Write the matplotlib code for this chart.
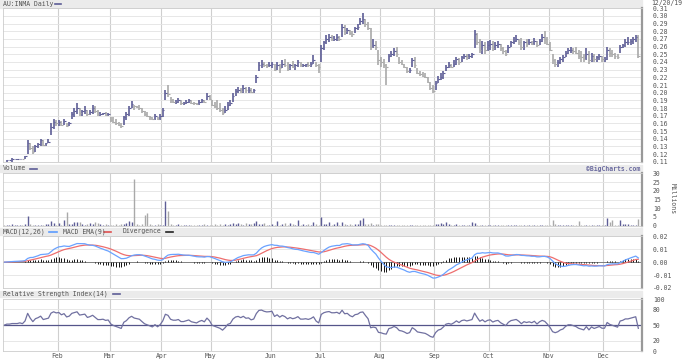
import matplotlib
matplotlib.use("Agg")
import matplotlib.pyplot as plt
from matplotlib.patches import Rectangle
from matplotlib.lines import Line2D
import numpy as np
import pandas as pd

# daily bars, 2 Jan 2019 to 20 Dec 2019 (one row per month in each list)
high = [
    0.110, 0.112, 0.112, 0.115, 0.113, 0.113, 0.114, 0.114, 0.118, 0.138, 0.135, 0.130, 0.132, 0.135, 0.140, 0.138, 0.135, 0.140, 0.160, 0.166, 0.164,
    0.165, 0.163, 0.166, 0.160, 0.162, 0.175, 0.180, 0.186, 0.180, 0.178, 0.182, 0.178, 0.178, 0.184, 0.182, 0.178, 0.175, 0.174, 0.175, 0.174,
    0.168, 0.168, 0.166, 0.162, 0.160, 0.170, 0.175, 0.182, 0.189, 0.184, 0.183, 0.184, 0.180, 0.176, 0.175, 0.170, 0.168, 0.172, 0.168, 0.172,
    0.180, 0.204, 0.210, 0.195, 0.192, 0.190, 0.193, 0.190, 0.188, 0.190, 0.192, 0.190, 0.188, 0.187, 0.190, 0.192, 0.191, 0.199, 0.197,
    0.190, 0.188, 0.190, 0.186, 0.180, 0.182, 0.188, 0.190, 0.199, 0.205, 0.208, 0.206, 0.210, 0.208, 0.207, 0.206, 0.205, 0.223, 0.240, 0.243, 0.240, 0.238, 0.240,
    0.240, 0.238, 0.240, 0.238, 0.242, 0.244, 0.240, 0.238, 0.241, 0.238, 0.242, 0.240, 0.238, 0.238, 0.240, 0.240, 0.249, 0.240, 0.238,
    0.262, 0.268, 0.275, 0.276, 0.275, 0.274, 0.276, 0.274, 0.290, 0.288, 0.284, 0.282, 0.280, 0.286, 0.290, 0.298, 0.304, 0.296, 0.292, 0.284, 0.270, 0.268, 0.256,
    0.246, 0.244, 0.238, 0.250, 0.254, 0.258, 0.259, 0.246, 0.242, 0.238, 0.234, 0.232, 0.245, 0.246, 0.232, 0.228, 0.227, 0.226, 0.220, 0.214, 0.210,
    0.215, 0.222, 0.226, 0.228, 0.236, 0.240, 0.238, 0.242, 0.246, 0.245, 0.248, 0.250, 0.251, 0.250, 0.252, 0.282, 0.278, 0.270, 0.268, 0.266, 0.268,
    0.269, 0.268, 0.266, 0.268, 0.264, 0.260, 0.256, 0.262, 0.268, 0.272, 0.275, 0.270, 0.271, 0.268, 0.270, 0.270, 0.268, 0.271, 0.268, 0.270, 0.276, 0.280, 0.272,
    0.266, 0.250, 0.244, 0.242, 0.246, 0.249, 0.254, 0.258, 0.260, 0.258, 0.260, 0.256, 0.254, 0.250, 0.258, 0.254, 0.252, 0.250, 0.248, 0.251, 0.248,
    0.246, 0.260, 0.258, 0.256, 0.252, 0.250, 0.262, 0.264, 0.270, 0.272, 0.270, 0.273, 0.275, 0.275,
]
low = [
    0.110, 0.110, 0.112, 0.110, 0.113, 0.112, 0.113, 0.113, 0.114, 0.120, 0.125, 0.120, 0.122, 0.128, 0.130, 0.130, 0.130, 0.134, 0.145, 0.152, 0.156,
    0.157, 0.157, 0.158, 0.155, 0.156, 0.166, 0.168, 0.172, 0.170, 0.170, 0.172, 0.170, 0.171, 0.172, 0.174, 0.170, 0.170, 0.171, 0.170, 0.170,
    0.162, 0.160, 0.158, 0.156, 0.154, 0.158, 0.165, 0.170, 0.180, 0.178, 0.180, 0.178, 0.174, 0.170, 0.168, 0.165, 0.164, 0.165, 0.164, 0.165,
    0.168, 0.190, 0.195, 0.186, 0.186, 0.185, 0.186, 0.184, 0.184, 0.185, 0.186, 0.185, 0.184, 0.184, 0.184, 0.186, 0.186, 0.190, 0.190,
    0.182, 0.180, 0.178, 0.175, 0.171, 0.174, 0.178, 0.182, 0.188, 0.196, 0.200, 0.199, 0.200, 0.200, 0.200, 0.199, 0.199, 0.212, 0.228, 0.232, 0.234, 0.232, 0.233,
    0.232, 0.228, 0.230, 0.226, 0.232, 0.234, 0.228, 0.230, 0.232, 0.230, 0.234, 0.234, 0.233, 0.234, 0.234, 0.234, 0.238, 0.234, 0.225,
    0.240, 0.256, 0.264, 0.266, 0.268, 0.268, 0.268, 0.268, 0.272, 0.275, 0.276, 0.275, 0.272, 0.278, 0.282, 0.288, 0.290, 0.286, 0.282, 0.256, 0.258, 0.256, 0.236,
    0.234, 0.232, 0.210, 0.240, 0.246, 0.248, 0.246, 0.238, 0.236, 0.232, 0.226, 0.225, 0.234, 0.232, 0.224, 0.222, 0.220, 0.219, 0.212, 0.204, 0.199,
    0.204, 0.212, 0.216, 0.218, 0.228, 0.232, 0.232, 0.234, 0.236, 0.236, 0.240, 0.244, 0.243, 0.244, 0.245, 0.258, 0.262, 0.252, 0.250, 0.250, 0.254,
    0.256, 0.254, 0.256, 0.258, 0.254, 0.250, 0.248, 0.252, 0.260, 0.264, 0.266, 0.262, 0.256, 0.256, 0.260, 0.262, 0.262, 0.262, 0.260, 0.262, 0.266, 0.264, 0.262,
    0.254, 0.238, 0.234, 0.234, 0.238, 0.240, 0.246, 0.250, 0.252, 0.250, 0.250, 0.244, 0.240, 0.240, 0.242, 0.238, 0.240, 0.240, 0.240, 0.242, 0.240,
    0.240, 0.242, 0.246, 0.246, 0.244, 0.244, 0.252, 0.258, 0.260, 0.262, 0.262, 0.264, 0.266, 0.245,
]
close = [
    0.110, 0.112, 0.112, 0.113, 0.113, 0.113, 0.114, 0.113, 0.117, 0.135, 0.128, 0.122, 0.130, 0.133, 0.138, 0.132, 0.134, 0.136, 0.155, 0.162, 0.160,
    0.162, 0.158, 0.163, 0.157, 0.160, 0.172, 0.176, 0.180, 0.174, 0.176, 0.178, 0.172, 0.175, 0.180, 0.176, 0.172, 0.172, 0.173, 0.171, 0.172,
    0.165, 0.162, 0.160, 0.158, 0.156, 0.168, 0.172, 0.180, 0.185, 0.182, 0.181, 0.180, 0.176, 0.172, 0.170, 0.168, 0.166, 0.170, 0.166, 0.170,
    0.178, 0.200, 0.198, 0.190, 0.188, 0.188, 0.190, 0.186, 0.186, 0.188, 0.190, 0.187, 0.186, 0.185, 0.188, 0.190, 0.188, 0.196, 0.192,
    0.184, 0.182, 0.180, 0.178, 0.174, 0.178, 0.184, 0.186, 0.196, 0.202, 0.204, 0.202, 0.206, 0.203, 0.204, 0.201, 0.203, 0.220, 0.236, 0.238, 0.236, 0.235, 0.236,
    0.238, 0.230, 0.236, 0.232, 0.238, 0.236, 0.232, 0.236, 0.234, 0.236, 0.240, 0.236, 0.236, 0.237, 0.236, 0.238, 0.242, 0.236, 0.233,
    0.258, 0.266, 0.270, 0.272, 0.270, 0.270, 0.272, 0.270, 0.286, 0.280, 0.282, 0.278, 0.276, 0.284, 0.286, 0.294, 0.296, 0.290, 0.284, 0.260, 0.262, 0.260, 0.242,
    0.240, 0.236, 0.234, 0.248, 0.250, 0.254, 0.250, 0.240, 0.238, 0.234, 0.228, 0.230, 0.242, 0.236, 0.226, 0.224, 0.222, 0.220, 0.214, 0.206, 0.202,
    0.212, 0.218, 0.220, 0.226, 0.234, 0.236, 0.234, 0.238, 0.244, 0.240, 0.246, 0.248, 0.246, 0.248, 0.250, 0.276, 0.266, 0.256, 0.262, 0.256, 0.262,
    0.264, 0.258, 0.262, 0.264, 0.258, 0.254, 0.250, 0.260, 0.266, 0.268, 0.270, 0.266, 0.260, 0.266, 0.264, 0.266, 0.264, 0.268, 0.262, 0.268, 0.272, 0.270, 0.264,
    0.256, 0.242, 0.238, 0.240, 0.244, 0.246, 0.252, 0.256, 0.256, 0.254, 0.252, 0.248, 0.246, 0.244, 0.250, 0.242, 0.248, 0.244, 0.246, 0.248, 0.244,
    0.244, 0.256, 0.252, 0.250, 0.248, 0.246, 0.260, 0.262, 0.266, 0.266, 0.268, 0.270, 0.272, 0.248,
]
# volume in millions
volume = [
    0.3, 0.2, 0.3, 1.0, 0.2, 0.3, 0.3, 0.4, 0.8, 5.8, 1.0, 0.6, 0.5, 0.6, 0.5, 0.4, 0.8, 1.2, 2.5, 1.8, 0.6,
    1.5, 0.6, 3.3, 8.0, 1.0, 0.8, 2.0, 2.2, 2.0, 1.0, 0.6, 1.2, 1.8, 1.0, 2.3, 1.5, 0.8, 0.6, 0.7, 0.5,
    0.6, 0.5, 0.7, 0.6, 1.2, 0.8, 1.5, 2.5, 2.0, 26.7, 0.8, 0.6, 0.7, 6.4, 7.2, 0.8, 0.5, 0.6, 1.0, 0.5,
    0.6, 14.0, 8.7, 1.0, 0.6, 0.5, 0.8, 0.4, 0.5, 0.3, 0.4, 0.3, 0.4, 0.3, 0.5, 0.3, 1.0, 0.6, 0.4,
    0.6, 0.8, 0.5, 1.0, 0.6, 0.8, 0.5, 1.0, 1.5, 1.2, 1.6, 0.8, 0.6, 1.5, 1.0, 0.8, 1.8, 2.5, 1.2, 0.8, 1.5, 0.6, 0.5,
    0.8, 0.6, 2.5, 0.5, 1.0, 1.8, 0.6, 1.5, 0.8, 0.5, 3.0, 0.6, 1.2, 0.5, 0.8, 0.6, 2.0, 0.8, 0.5,
    5.0, 1.0, 0.8, 2.0, 0.6, 0.8, 2.0, 0.5, 2.0, 0.8, 0.6, 0.7, 0.5, 0.8, 1.0, 3.0, 4.5, 1.2, 0.8, 1.5, 0.6, 1.0, 1.2,
    0.6, 0.4, 0.5, 0.3, 0.4, 0.3, 0.5, 0.3, 0.3, 0.4, 0.3, 0.4, 0.5, 0.3, 0.4, 0.3, 0.3, 0.5, 0.4, 0.6, 0.5,
    1.2, 1.0, 1.5, 1.2, 2.0, 0.8, 0.5, 0.6, 1.0, 0.4, 0.3, 0.5, 0.4, 0.5, 2.3, 1.5, 0.6, 0.5, 0.4, 0.5, 0.4,
    0.3, 0.4, 0.2, 0.3, 0.3, 0.2, 0.4, 0.3, 0.2, 0.3, 0.3, 0.2, 0.4, 0.3, 0.2, 0.3, 0.3, 0.2, 0.4, 0.3, 0.5, 0.6, 0.4,
    0.5, 3.0, 0.8, 0.5, 0.6, 0.4, 0.5, 0.3, 0.4, 0.3, 0.5, 2.7, 0.4, 0.3, 0.3, 0.4, 0.3, 0.3, 0.2, 0.4, 0.3,
    0.4, 4.4, 2.0, 3.5, 0.6, 0.5, 3.0, 1.0, 0.8, 1.2, 0.5, 0.6, 0.5, 3.7,
]
# index of the first bar of each month, Feb..Dec
month_start = [21, 41, 61, 80, 103, 122, 145, 166, 187, 210, 231]
month_names = ["Feb", "Mar", "Apr", "May", "Jun", "Jul", "Aug", "Sep", "Oct", "Nov", "Dec"]

price_ticks = [0.11, 0.12, 0.13, 0.14, 0.15, 0.16, 0.17, 0.18, 0.19, 0.20, 0.21,
               0.22, 0.23, 0.24, 0.25, 0.26, 0.27, 0.28, 0.29, 0.30, 0.31]
vol_ticks = [0, 5, 10, 15, 20, 25, 30]
macd_ticks = [-0.02, -0.01, 0.0, 0.01, 0.02]
rsi_ticks = [0, 20, 50, 80, 100]

# indicators
c = pd.Series(close)
macd = c.ewm(span=12, adjust=False).mean() - c.ewm(span=26, adjust=False).mean()
signal = macd.ewm(span=9, adjust=False).mean()
div = macd - signal

moves = np.diff(close, prepend=close[0])
avg_up = avg_dn = 0.002
rsi = []
for m in moves:
    avg_up = (avg_up * 13 + max(m, 0)) / 14
    avg_dn = (avg_dn * 13 + max(-m, 0)) / 14
    rsi.append(100 * avg_up / (avg_up + avg_dn))

x = np.arange(len(close))
up_col, dn_col = "#5d5d96", "#a9a9a9"
colors = [dn_col] + [up_col if close[i] >= close[i - 1] else dn_col for i in range(1, len(close))]
grid_x = [m - 0.5 for m in month_start]

W, H = 685, 359
def box(left, top, right, bottom):
    return [left / W, 1 - bottom / H, (right - left) / W, (bottom - top) / H]

plt.rcParams["font.family"] = "DejaVu Sans Mono"
plt.rcParams["font.size"] = 4.7
txt = "#555555"

fig = plt.figure(figsize=(6.85, 3.59), dpi=100)

# grey header strips
for top, bottom in [(0, 8), (165, 171.5), (228, 234.5), (291, 297)]:
    fig.add_artist(Rectangle((0, 1 - bottom / H), 642 / W, (bottom - top) / H,
                             transform=fig.transFigure, color="#ebebeb", zorder=0))

def dash(x0, x1, y, color):
    fig.add_artist(Line2D([x0 / W, x1 / W], [1 - y / H, 1 - y / H], color=color, lw=1.2))

fig.text(3 / W, 1 - 4 / H, "AU:INMA Daily", va="center", color=txt)
dash(55, 61, 4, up_col)
fig.text(651 / W, 1 - 3.5 / H, "12/20/19", va="center", color=txt)
fig.text(3 / W, 1 - 168.5 / H, "Volume", va="center", color=txt)
dash(30, 37, 168.5, up_col)
fig.text(640 / W, 1 - 168.5 / H, "\u00a9BigCharts.com", va="center", ha="right",
         color="#6c6ca0", fontweight="bold")
fig.text(3 / W, 1 - 231.5 / H, "MACD(12,26)", va="center", color=txt)
dash(49, 57, 231.5, "#5b9bff")
fig.text(63 / W, 1 - 231.5 / H, "MACD EMA(9)", va="center", color=txt)
dash(104, 111, 231.5, "#e05050")
fig.text(123 / W, 1 - 231.5 / H, "Divergence", va="center", color=txt)
dash(166, 173, 231.5, "#222222")
fig.text(3 / W, 1 - 294 / H, "Relative Strength Index(14)", va="center", color=txt)
dash(113, 120, 294, up_col)
fig.text(673 / W, 1 - 199 / H, "Millions", va="center", ha="center", rotation=270, color=txt)

def setup(ax, ticks, fmt, ylim):
    ax.set_xlim(-0.6, 245.3)
    ax.set_ylim(*ylim)
    ax.set_yticks(ticks)
    ax.set_yticklabels([fmt(t) for t in ticks])
    ax.yaxis.tick_right()
    ax.tick_params(axis="y", length=0, pad=8, colors=txt)
    ax.tick_params(axis="x", length=0, labelbottom=False)
    ax.set_xticks([])
    for s in ["left", "top", "bottom"]:
        ax.spines[s].set_color("#cccccc")
        ax.spines[s].set_linewidth(0.6)
    ax.spines["right"].set_color("#999999")
    ax.spines["right"].set_linewidth(1.6)
    for g in grid_x:
        ax.axvline(g, color="#cfcfcf", lw=0.8, zorder=0)

# price
ax1 = fig.add_axes(box(2.7, 8.3, 641.7, 161.7))
setup(ax1, price_ticks, lambda t: "%.2f" % t, (0.11, 0.31))
for t in price_ticks:
    ax1.axhline(t, color="#e3e3e3", lw=0.6, zorder=0)
ax1.vlines(x, low, high, colors=colors, lw=1.2)
ax1.hlines(close, x, x + 0.6, colors=colors, lw=0.8)

# volume
ax2 = fig.add_axes(box(2.7, 173.3, 641.7, 225.7))
setup(ax2, vol_ticks, lambda t: "%d" % t, (0, 30))
for t in vol_ticks:
    ax2.axhline(t, color="#e3e3e3", lw=0.6, zorder=0)
ax2.vlines(x, 0, volume, colors=colors, lw=1.0)

# MACD
ax3 = fig.add_axes(box(2.7, 236.3, 641.7, 288))
setup(ax3, macd_ticks, lambda t: "%.2f" % t, (-0.02, 0.02))
for t in macd_ticks:
    ax3.axhline(t, color="#e3e3e3", lw=0.6, zorder=0)
ax3.axhline(0, color="#333333", lw=0.4)
ax3.vlines(x, 0, div, colors="#111111", lw=0.7)
ax3.plot(x, signal, color="#ee6e6e", lw=0.9)
ax3.plot(x, macd, color="#6aa2ff", lw=0.9)

# RSI
ax4 = fig.add_axes(box(2.7, 299, 641.7, 351.3))
setup(ax4, rsi_ticks, lambda t: "%d" % t, (0, 100))
for t in [20, 80]:
    ax4.axhline(t, color="#e3e3e3", lw=0.6, zorder=0)
ax4.axhline(50, color="#55558a", lw=0.9)
ax4.plot(x, rsi, color="#7070a0", lw=0.9)
ax4.set_xticks(grid_x)
ax4.set_xticklabels(month_names)
ax4.tick_params(axis="x", length=0, pad=1.5, labelbottom=True, colors=txt)

fig.savefig("out.png", dpi=100)
